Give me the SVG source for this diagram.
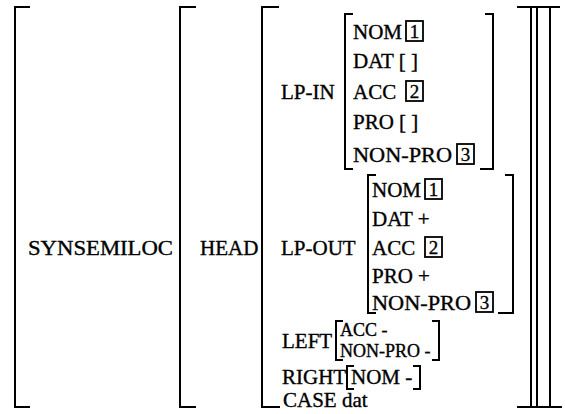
<svg xmlns="http://www.w3.org/2000/svg" width="565" height="414" viewBox="0 0 565 414">
  <style>
    text { font-family: "Liberation Serif", "Times New Roman", serif; font-size: 21px; fill: #000; stroke: #000; stroke-width: 0.35; }
    .br { fill: none; stroke: #000; stroke-width: 2; }
    .box { fill: none; stroke: #000; stroke-width: 1.8; }
    .num { text-anchor: middle; font-size: 19px; }
    .tight { font-size: 18px; }
  </style>
  <rect width="565" height="414" fill="#fff"/>

  <!-- bracket lines of the attribute-value matrix -->
  <g id="connectors">
    <!-- outer matrix -->
    <path class="br" d="M30,7 H15 V407 H30"/>
    <!-- SYNSEM|LOC value -->
    <path class="br" d="M196,7 H180 V407 H196"/>
    <!-- HEAD value -->
    <path class="br" d="M279,7 H262 V407 H280"/>
    <!-- closing brackets on the right -->
    <path class="br" d="M517,7 H560 M531,7 V407 M537,7 V407 M550,7 V407 M517,407 H562"/>
    <!-- LP-IN value -->
    <path class="br" d="M353,14 H345 V169 H353"/>
    <path class="br" d="M485,14 H493 V169 H480"/>
    <!-- LP-OUT value -->
    <path class="br" d="M376,175 H368 V313 H376"/>
    <path class="br" d="M505,175 H513 V313 H498"/>
    <!-- LEFT value -->
    <path class="br" d="M343,321 H336 V360 H343"/>
    <path class="br" d="M432,321 H439 V360 H432"/>
    <!-- RIGHT value -->
    <path class="br" d="M354,366 H347 V389 H354"/>
    <path class="br" d="M413,366 H420 V389 H413"/>
  </g>

  <g id="synsem-loc">
    <text x="28" y="255" textLength="145" lengthAdjust="spacingAndGlyphs">SYNSEMILOC</text>
  </g>

  <g id="head">
    <text x="200" y="255">HEAD</text>
  </g>

  <g id="lp-in">
    <text x="281" y="99">LP-IN</text>
    <text x="353" y="39">NOM</text>
    <rect class="box" x="406" y="21" width="17" height="20"/>
    <text class="num" x="414.5" y="38">1</text>
    <text x="353" y="68">DAT  [ ]</text>
    <text x="353" y="99">ACC</text>
    <rect class="box" x="406" y="81" width="17" height="20"/>
    <text class="num" x="414.5" y="98">2</text>
    <text x="353" y="129">PRO [ ]</text>
    <text x="353" y="162" textLength="99" lengthAdjust="spacingAndGlyphs">NON-PRO</text>
    <rect class="box" x="457" y="144" width="17" height="20"/>
    <text class="num" x="465.5" y="161">3</text>
  </g>

  <g id="lp-out">
    <text x="281" y="255">LP-OUT</text>
    <text x="372" y="197">NOM</text>
    <rect class="box" x="425" y="179" width="17" height="20"/>
    <text class="num" x="433.5" y="196">1</text>
    <text x="372" y="226">DAT +</text>
    <text x="372" y="255">ACC</text>
    <rect class="box" x="425" y="237" width="17" height="20"/>
    <text class="num" x="433.5" y="254">2</text>
    <text x="372" y="283">PRO +</text>
    <text x="372" y="310" textLength="99" lengthAdjust="spacingAndGlyphs">NON-PRO</text>
    <rect class="box" x="476" y="292" width="17" height="20"/>
    <text class="num" x="484.5" y="309">3</text>
  </g>

  <g id="left">
    <text x="282" y="348">LEFT</text>
    <text class="tight" x="340" y="336">ACC -</text>
    <text class="tight" x="340" y="357">NON-PRO -</text>
  </g>

  <g id="right">
    <text x="282" y="384">RIGHT</text>
    <text x="351" y="384">NOM -</text>
  </g>

  <g id="case">
    <text x="283" y="407">CASE dat</text>
  </g>
</svg>
